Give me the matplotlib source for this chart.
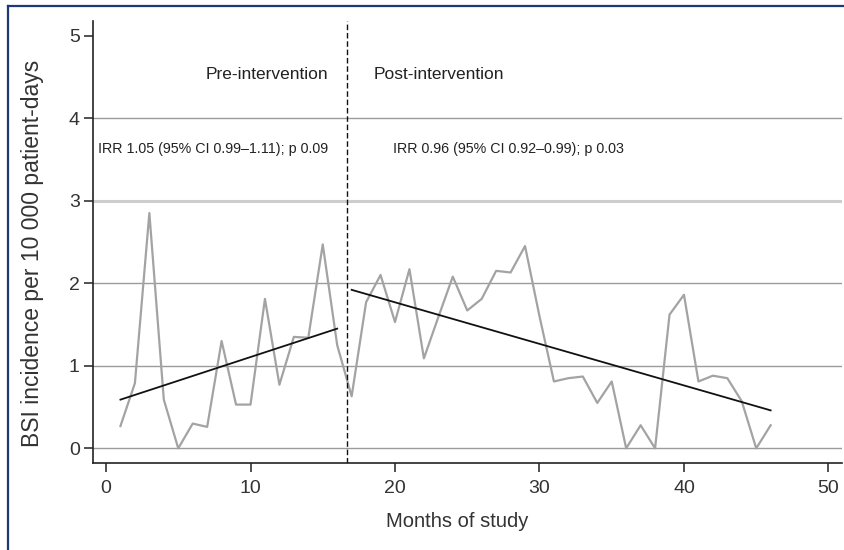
import numpy as np
import matplotlib
matplotlib.use("Agg")
import matplotlib.pyplot as plt
from matplotlib.lines import Line2D

plt.rcParams['font.family'] = ['Liberation Sans', 'DejaVu Sans']

# monthly BSI incidence (per 10 000 patient-days)
months = list(range(1, 47))
incidence = [0.27, 0.79, 2.85, 0.59, 0.00, 0.30, 0.26, 1.30, 0.53, 0.53,
             1.81, 0.77, 1.35, 1.34, 2.47, 1.25, 0.63, 1.77, 2.10, 1.53,
             2.17, 1.09, 1.59, 2.08, 1.67, 1.81, 2.15, 2.13, 2.45, 1.60,
             0.81, 0.85, 0.87, 0.55, 0.81, 0.00, 0.28, 0.00, 1.62, 1.86,
             0.81, 0.88, 0.85, 0.57, 0.00, 0.28]

# fitted trends
trend_pre_x = [1, 16]
trend_pre_y = [0.59, 1.45]
trend_post_x = [17, 46]
trend_post_y = [1.92, 0.46]

intervention = 16.7
grid_dark = [0, 1, 2, 4]
grid_light = [3]

xticks = [0, 10, 20, 30, 40, 50]
yticks = [0, 1, 2, 3, 4, 5]

fig = plt.figure(figsize=(8.44, 5.5), dpi=100)
ax = fig.add_axes([0.1102, 0.1587, 0.888, 0.8037])

for g in grid_dark:
    ax.axhline(g, color='#9c9c9c', lw=1.0, zorder=1)
for g in grid_light:
    ax.axhline(g, color='#cdcdcd', lw=2.2, zorder=1)

ax.plot(months, incidence, color='#a3a3a3', lw=1.6, zorder=2)
ax.plot(trend_pre_x, trend_pre_y, color='#111111', lw=1.3, zorder=3)
ax.plot(trend_post_x, trend_post_y, color='#111111', lw=1.3, zorder=3)
ax.axvline(intervention, color='#111111', lw=1.0, ls=(0, (4, 2)), zorder=3)

ax.text(15.37, 4.53, 'Pre-intervention', ha='right', va='center', fontsize=12.5, color='#222222')
ax.text(18.53, 4.53, 'Post-intervention', ha='left', va='center', fontsize=12.5, color='#222222')
ax.text(-0.53, 3.63, 'IRR 1.05 (95% CI 0.99\u20131.11); p 0.09', ha='left', va='center',
        fontsize=10.3, color='#222222')
ax.text(19.85, 3.63, 'IRR 0.96 (95% CI 0.92\u20130.99); p 0.03', ha='left', va='center',
        fontsize=10.3, color='#222222')

ax.set_xlim(-0.9, 50.97)
ax.set_ylim(-0.174, 5.18)
ax.set_xticks(xticks)
ax.set_yticks(yticks)
ax.tick_params(axis='both', length=6.5, width=1.1, color='#222222', labelsize=14,
               labelcolor='#333333')
ax.tick_params(axis='x', pad=6)
ax.tick_params(axis='y', pad=3)

for s in ['top', 'right']:
    ax.spines[s].set_visible(False)
for s in ['left', 'bottom']:
    ax.spines[s].set_linewidth(1.2)
    ax.spines[s].set_color('#222222')

ax.set_xlabel('Months of study', fontsize=14.5, color='#333333')
ax.set_ylabel('BSI incidence per 10 000 patient-days', fontsize=16.5, color='#333333')
ax.xaxis.set_label_coords(0.486, -0.112)
ax.yaxis.set_label_coords(-0.066, 0.473)

# blue frame (left and top edges)
fig.add_artist(Line2D([7.5 / 844, 7.5 / 844], [0, 1 - 6 / 550], color='#1f3878', lw=1.6))
fig.add_artist(Line2D([7.5 / 844, 1], [1 - 6 / 550, 1 - 6 / 550], color='#1f3878', lw=1.6))

fig.savefig('out.png', dpi=100)
